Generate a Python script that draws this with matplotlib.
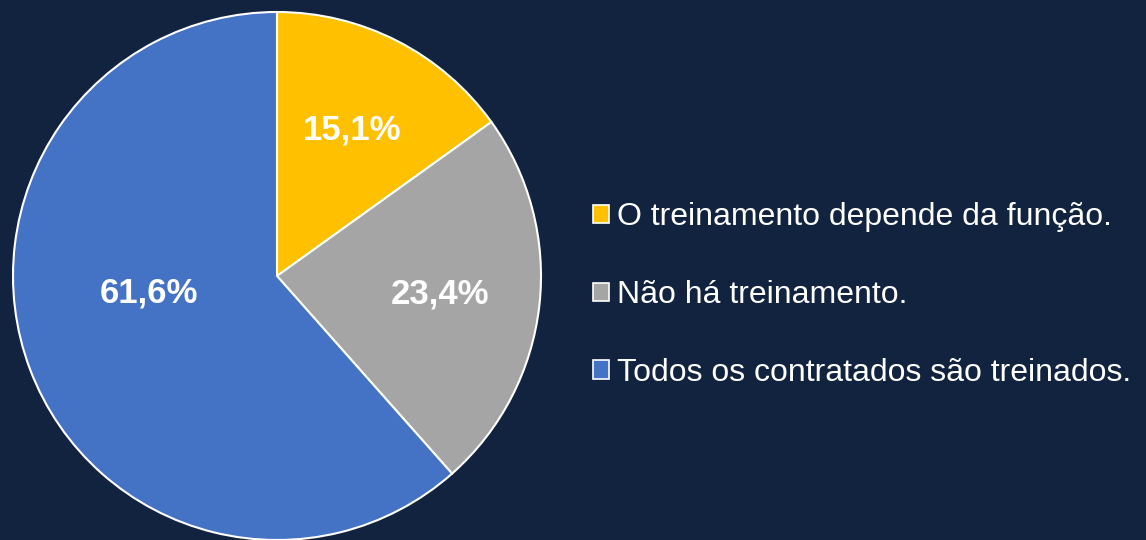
import matplotlib
matplotlib.use("Agg")
import matplotlib.pyplot as plt
import numpy as np

categories = ["O treinamento depende da função.", "Não há treinamento.", "Todos os contratados são treinados."]
values = [15.1, 23.4, 61.6]
colors = ["#FFC000", "#A5A5A5", "#4472C4"]
pct_labels = ["15,1%", "23,4%", "61,6%"]

bg = "#12233F"
plt.rcParams['font.family'] = ['Liberation Sans', 'DejaVu Sans']

fig = plt.figure(figsize=(11.46, 5.40), dpi=100, facecolor=bg)
W, H = 1146, 540
cx, cy, r = 277, 276, 264
ax = fig.add_axes([(cx - r) / W, (H - cy - r) / H, 2 * r / W, 2 * r / H])
ax.set_facecolor(bg)

wedges, _ = ax.pie(values, colors=colors, startangle=90, counterclock=False,
                   radius=1.0, wedgeprops=dict(edgecolor="white", linewidth=1.5))
ax.set_xlim(-1, 1)
ax.set_ylim(-1, 1)
ax.set_aspect("equal")
ax.axis("off")

ang = 90.0
positions = []
for v in values:
    span = v / sum(values) * 360
    mid = np.deg2rad(ang - span / 2)
    positions.append((0.62 * np.cos(mid), 0.62 * np.sin(mid)))
    ang -= span
positions[2] = (-0.485, -0.0625)
for (x, y), t in zip(positions, pct_labels):
    ax.text(x, y, t, ha="center", va="center", color="white", fontsize=25, fontweight="bold")

leg = fig.legend(wedges, categories, loc="center left", bbox_to_anchor=(593 / W, 1 - 295 / H),
                 frameon=False, fontsize=23, labelcolor="white", handlelength=0.5, handleheight=0.5,
                 handletextpad=0.25, labelspacing=1.5, borderpad=0, borderaxespad=0)
for h in leg.legend_handles:
    h.set_edgecolor("white")
    h.set_linewidth(1.2)

fig.savefig("out.png", dpi=100, facecolor=bg)
